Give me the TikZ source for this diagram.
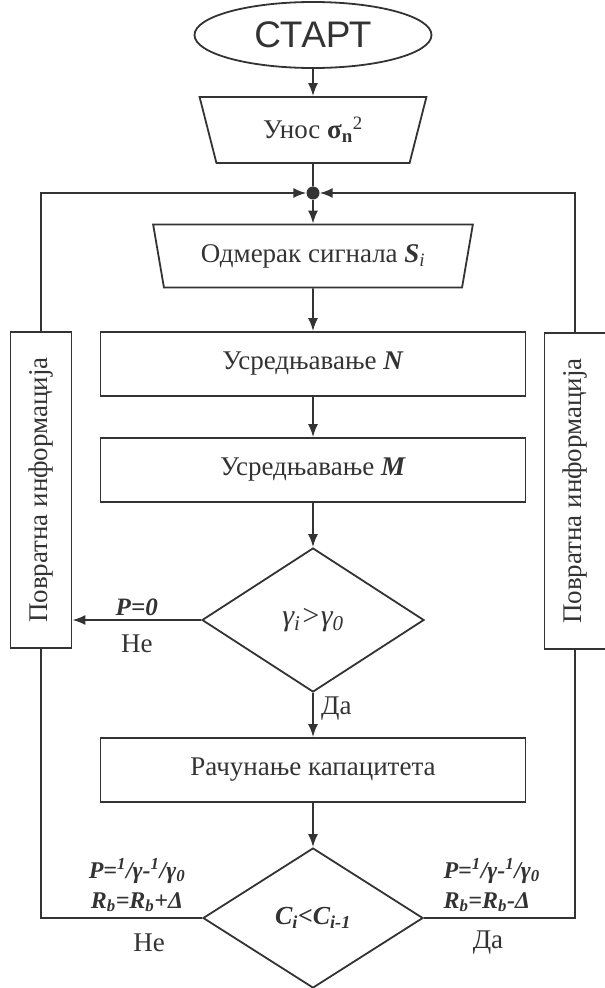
\documentclass[tikz,border=0pt]{standalone}
\usepackage{fontspec}
\setmainfont{Liberation Serif}
\newfontfamily\startfont{Liberation Sans}
\usepackage{graphicx}
\usetikzlibrary{arrows.meta}
\usetikzlibrary{shapes.geometric}
\definecolor{ink}{HTML}{333333}
\tikzset{
  flow/.style={draw=ink, line width=1.8pt},
  blok/.style={flow, rectangle, minimum width=425pt, minimum height=64pt, inner sep=0pt},
  unos/.style={flow, trapezium, shape border rotate=180, trapezium angle=71,
    trapezium stretches=true, inner sep=0pt},
  uslov/.style={flow, diamond, inner sep=0pt},
  povrat/.style={flow, rectangle, minimum width=61pt, minimum height=316pt, inner sep=0pt},
  >={Latex[length=13pt,width=10pt]}
}

\begin{document}
\begin{tikzpicture}[x=1pt, y=-1pt, font=\fontsize{27}{32}\selectfont, text=ink]
  \useasboundingbox (0,0) rectangle (605,988);

  \node [flow, ellipse, minimum width=237pt, minimum height=66pt, inner sep=0pt,
    font=\startfont\fontsize{37}{40}\selectfont] (start) at (313,35) {СТАРТ};
  \node [unos, minimum width=227pt, minimum height=66pt] (ulaz) at (313,130)
    {Унос \textbf{σ}\textsubscript{\textbf{n}}\textsuperscript{2}};
  \node [circle, fill=ink, minimum size=13pt, inner sep=0pt] (spoj) at (313,193) {};
  \node [unos, minimum width=320pt, minimum height=63pt] (odmerak) at (313,256)
    {Одмерак сигнала \textbf{\textit{S}}\textsubscript{\textit{i}}};
  \node [blok] (usrN) at (313,364) {Усредњавање \textbf{\textit{N}}};
  \node [blok] (usrM) at (313,470) {Усредњавање \textbf{\textit{M}}};
  \node [uslov, minimum width=222pt, minimum height=144pt,
    font=\itshape\fontsize{30}{32}\selectfont] (gama) at (313,620)
    {γ\textsubscript{i}>γ\textsubscript{0}};
  \node [blok] (racun) at (313,770) {Рачунање капацитета};
  \node [uslov, minimum width=220pt, minimum height=140pt,
    font=\bfseries\itshape\fontsize{26}{30}\selectfont] (cmp) at (313,918)
    {C\textsubscript{i}<C\textsubscript{i-1}};

  \node [povrat] (levo) at (41,490) {\rotatebox{90}{Повратна информација}};
  \node [povrat] (desno) at (575,491) {\rotatebox{90}{Повратна информација}};

  \draw [flow, ->] (start) -- (ulaz);
  \draw [flow] (ulaz) -- (spoj);
  \draw [flow, ->] (spoj) -- (odmerak);
  \draw [flow, ->] (odmerak) -- (usrN);
  \draw [flow, ->] (usrN) -- (usrM);
  \draw [flow, ->] (usrM) -- (gama);
  \draw [flow, ->] (gama) -- (racun)
    node [pos=0.35, right, xshift=4pt] {Да};
  \draw [flow, ->] (racun) -- (cmp);

  \draw [flow, ->] (gama.west) -- (gama.west -| levo.east)
    node [midway, above, font=\bfseries\itshape\fontsize{25}{30}\selectfont] {P=0}
    node [midway, below, yshift=-11pt] {Не};

  % povratne grane
  \draw [flow] (cmp.west) -- (cmp.west -| levo.south) -- (levo.south);
  \draw [flow, ->] (levo.north) -- (levo.north |- spoj) -- (spoj.west);
  \draw [flow] (cmp.east) -- (cmp.east -| desno.south) -- (desno.south);
  \draw [flow, ->] (desno.north) -- (desno.north |- spoj) -- (spoj.east);

  \node [align=center, font=\bfseries\itshape\fontsize{24}{30}\selectfont] (korakL) at (137,885)
    {P=\textsuperscript{1}/γ-\textsuperscript{1}/γ\textsubscript{0}\\
     R\textsubscript{b}=R\textsubscript{b}+Δ};
  \node [align=left, anchor=west, font=\bfseries\itshape\fontsize{24}{30}\selectfont] (korakD) at (440,885)
    {P=\textsuperscript{1}/γ-\textsuperscript{1}/γ\textsubscript{0}\\
     R\textsubscript{b}=R\textsubscript{b}-Δ};
  \node (neL) at (149,943) {Не};
  \node (daD) at (488,943) {Да};
\end{tikzpicture}
\end{document}
